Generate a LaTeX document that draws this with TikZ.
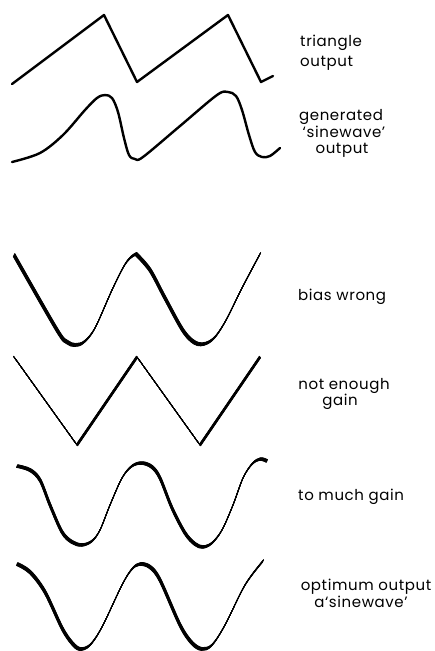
\documentclass[tikz,border=0pt]{standalone}
\usepackage{fontspec}
\setmainfont{Poppins}[LetterSpace=4]
\tikzset{
	trace/.style={line width=2.4pt},
	nibtrace/.style={line width=0.7pt},
	lbl/.style={inner sep=0pt, anchor=base west, font=\fontsize{15}{18}\selectfont},
	clbl/.style={lbl, anchor=base},
}
\newcommand{\nibwave}[4]{%
	\foreach \t in {-1,-0.8,...,1}
		\draw[nibtrace, shift={({\t*(#2)},{\t*(#3)})}] plot[#1] coordinates {#4};
}
\begin{document}
\begin{tikzpicture}[x=1pt, y=-1pt, line join=round, line cap=round]
		\useasboundingbox (0,0) rectangle (435,651);
		\draw[trace] (12,84) -- (104,15) -- (137,82) -- (228,15) -- (261,82) -- (273,76);
		\draw[trace] plot[smooth, tension=0.55] coordinates {(12,162) (40,153) (63,135) (85,110) (97,98) (105,95) (112,98) (118,112) (124,138) (129,155) (135,159) (143,157) (180,126) (217,95) (228,92) (236,96) (242,110) (249,135) (255,152) (262,157) (270,156) (280,148)};
		\nibwave{smooth, tension=0.55}{0.74}{-1.6}{(14,255) (57,330) (67,342) (75,345) (84,342) (95,328) (112,290) (124,266) (131,257) (136,254)}
		\nibwave{smooth, tension=0.55}{0.74}{-1.6}{(136,254) (150,270) (165,298) (184,332) (198,344) (212,340) (225,322) (242,288) (260,254)}
		\nibwave{sharp plot}{0.6}{0.85}{(14,357) (77,445) (137,357) (200,445) (260,357)}
		\nibwave{smooth, tension=0.55}{0.65}{-1.4}{(17,466) (30,470) (40,480) (50,505) (62,532) (72,542) (82,545) (92,541) (100,530) (110,505) (122,478) (132,466) (142,463) (152,467) (160,478) (172,508) (185,533) (195,544) (203,547) (212,543) (222,530) (233,505) (243,478) (252,464) (260,459) (267,461)}
		\nibwave{smooth, tension=0.55}{0.7}{-1.5}{(17,564) (30,572) (45,592) (62,628) (72,643) (80,649) (90,645) (102,627) (122,585) (132,569) (140,564) (150,567) (160,580) (180,625) (192,643) (202,649) (212,645) (225,625) (245,585) (263,561)}
		\node[lbl] (tri1) at (300,46) {triangle};
		\node[lbl] (tri2) at (300,66) {output};
		\node[clbl] (gen1) at (341,120) {generated};
		\node[clbl] (gen2) at (344,137) {‘sinewave’};
		\node[clbl] (gen3) at (342,153) {output};
		\node[lbl] (bias) at (298,300) {bias wrong};
		\node[clbl] (gain1) at (344,389) {not enough};
		\node[clbl] (gain2) at (340,405) {gain};
		\node[lbl] (much) at (298,500) {to much gain};
		\node[clbl] (opt1) at (366,590) {optimum output};
		\node[clbl] (opt2) at (361,607) {a‘sinewave’};
	\end{tikzpicture}
\end{document}
